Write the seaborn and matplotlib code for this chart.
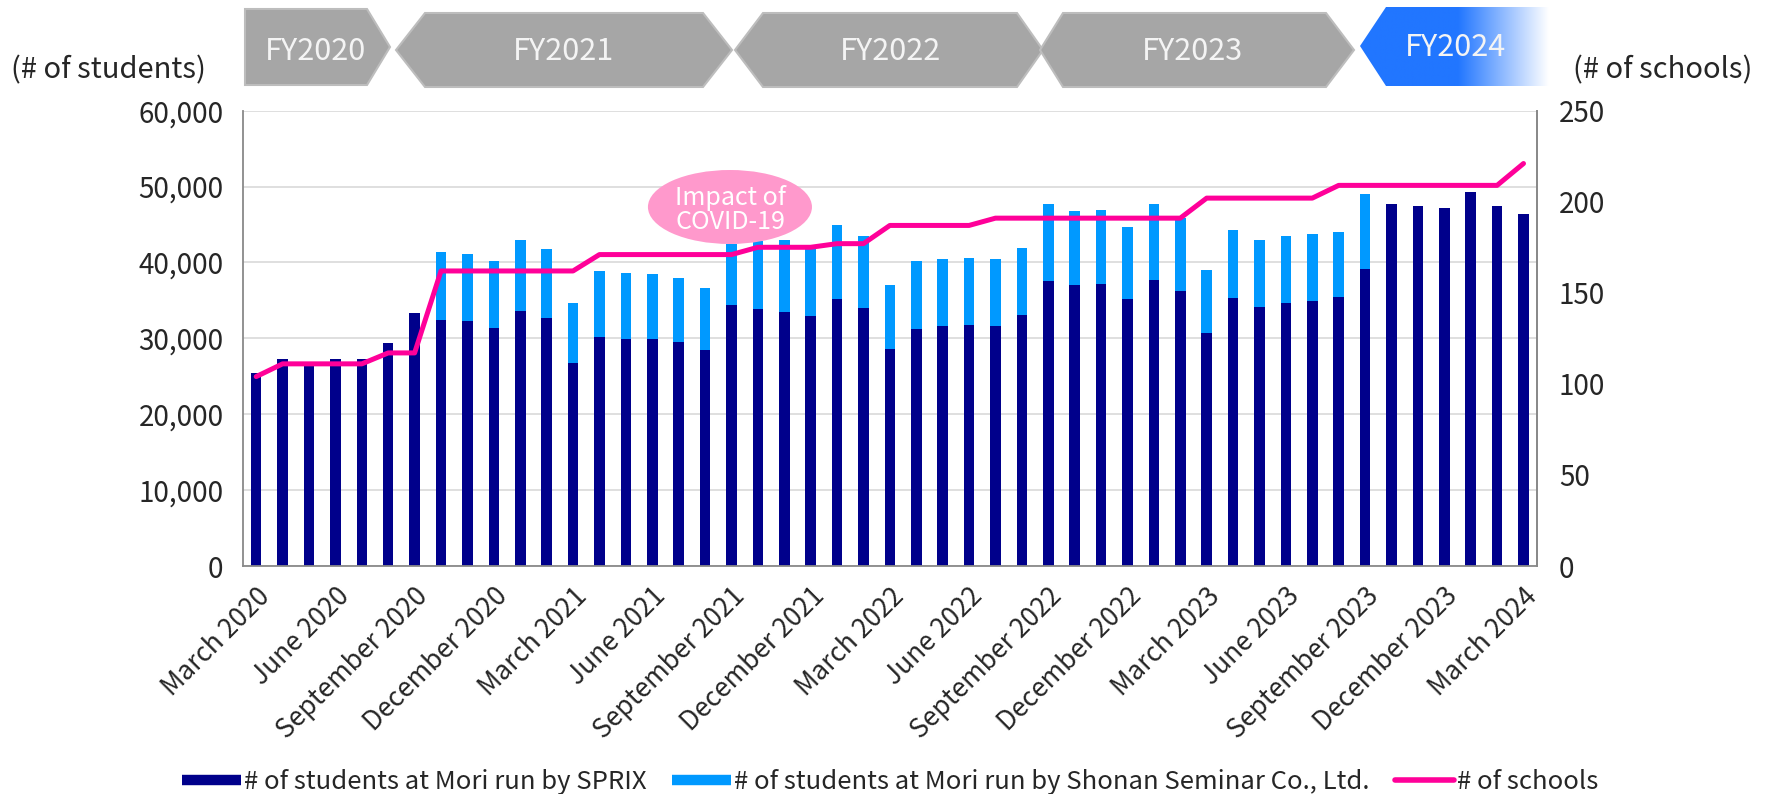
import numpy as np
import pandas as pd
import matplotlib
matplotlib.use("Agg")
import matplotlib.pyplot as plt
import seaborn as sns
from matplotlib.patches import Polygon, Ellipse
from matplotlib.lines import Line2D

# Data
months = pd.date_range("2020-03-01", periods=49, freq="MS").strftime("%B %Y").tolist()

sprix = [25470, 27270, 26300, 27230, 27270, 29340, 33380,
         32460, 32280, 31400, 33640, 32720, 26750,
         30170, 29950, 29860, 29470, 28410, 34390, 33860, 33510, 32980, 35220, 34040, 28630,
         31270, 31580, 31710, 31660, 33070, 37590, 37070, 37200, 35180, 37720, 36230, 30740,
         35350, 34170, 34690, 34960, 35490, 39170, 47690, 47390, 47210, 49230, 47430, 46380]

shonan = [0, 0, 0, 0, 0, 0, 0,
          8910, 8830, 8740, 9310, 9090, 7900,
          8700, 8610, 8610, 8470, 8220, 8100, 8940, 9440, 8820, 9710, 9440, 8440,
          8960, 8870, 8910, 8790, 8870, 10150, 9700, 9750, 9530, 9930, 9670, 8300,
          8960, 8780, 8790, 8740, 8560, 9890, 0, 0, 0, 0, 0, 0]

schools = [104, 111, 111, 111, 111, 117, 117,
           162, 162, 162, 162, 162, 162,
           171, 171, 171, 171, 171, 171, 175, 175, 175, 177, 177, 187,
           187, 187, 187, 191, 191, 191, 191, 191, 191, 191, 191, 202,
           202, 202, 202, 202, 209, 209, 209, 209, 209, 209, 209, 221]

fy_labels = ["FY2020", "FY2021", "FY2022", "FY2023", "FY2024"]

df = pd.DataFrame({"month": months, "sprix": sprix, "shonan": shonan, "schools": schools})
df["total"] = df["sprix"] + df["shonan"]

NAVY = "#00008B"
LIGHT = "#0099FF"
PINK = "#FF0099"

sns.set_style("white")
plt.rcParams["font.family"] = ["Noto Sans CJK JP", "DejaVu Sans"]

W, H = 1777, 794
fig = plt.figure(figsize=(W / 100, H / 100), dpi=100)


def fx(x):
    return x / W


def fy(y):
    return 1 - y / H


ax = fig.add_axes([fx(243), fy(566), fx(1536.7 - 243), (566 - 110.7) / H])

# stacked bars: total in light blue, SPRIX part drawn over it
sns.barplot(data=df, x="month", y="total", color=LIGHT, width=0.4, saturation=1,
            errorbar=None, linewidth=0, ax=ax)
sns.barplot(data=df, x="month", y="sprix", color=NAVY, width=0.4, saturation=1,
            errorbar=None, linewidth=0, ax=ax)

ax.set_ylim(0, 60000)
ax.set_yticks(range(0, 60001, 10000))
ax.set_yticklabels([f"{v:,}" for v in range(0, 60001, 10000)])
ax.yaxis.grid(True, color="#D9D9D9", linewidth=1.2)
ax.set_axisbelow(True)
ax.set_xlabel("")
ax.set_ylabel("")
ax.tick_params(axis="y", length=0, pad=14, labelsize=20)

ax.set_xticks(range(0, len(months), 3))
ax.set_xticklabels(months[::3], rotation=45, ha="right", rotation_mode="anchor", fontsize=19)
ax.tick_params(axis="x", length=0, pad=12)
ax.set_xticks(np.arange(-0.5, len(months) - 1, 3), minor=True)
ax.tick_params(axis="x", which="minor", length=6, width=1.2, color="#898989")

for s in ["left", "bottom", "right"]:
    ax.spines[s].set_color("#898989")
    ax.spines[s].set_linewidth(1.3)
ax.spines["top"].set_visible(False)

# schools line on secondary axis
ax2 = ax.twinx()
sns.lineplot(x=df.index, y=df["schools"], color=PINK, linewidth=3.6, ax=ax2)
ax2.set_ylim(0, 250)
ax2.set_yticks(range(0, 251, 50))
ax2.tick_params(axis="y", length=0, pad=16, labelsize=20)
ax2.set_ylabel("")
ax2.set_xlabel("")
for s in ["left", "bottom", "top"]:
    ax2.spines[s].set_visible(False)
ax2.spines["right"].set_color("#898989")
ax2.spines["right"].set_linewidth(1.3)
ax.set_xlim(-0.5, len(months) - 0.5)

# COVID note
ax2.add_patch(Ellipse((0.3764, 0.7885), 0.1268, 0.1625, transform=ax2.transAxes,
                      facecolor="#FF99CC", edgecolor="none", zorder=5))
ax2.text(0.3764, 0.7830, "Impact of\nCOVID-19", transform=ax2.transAxes, ha="center",
         va="center", color="white", fontsize=18, linespacing=0.9, zorder=6)

# axis titles
fig.text(fx(11), fy(70), "(# of students)", fontsize=21, va="center", ha="left")
fig.text(fx(1573), fy(70), "(# of schools)", fontsize=21, va="center", ha="left")

# fiscal-year banners
GRAY = "#A6A6A6"
shapes = [
    [(245, 9), (367, 9), (390, 47), (367, 85), (245, 85)],
    [(425, 13), (703, 13), (732, 50), (703, 87), (425, 87), (396, 50)],
    [(763, 13), (1017, 13), (1043, 50), (1017, 87), (763, 87), (735, 50)],
    [(1063, 13), (1326, 13), (1354, 50), (1326, 87), (1063, 87), (1040, 50)],
]
centers = [316, 564, 890, 1192]
for pts, cx, lab in zip(shapes, centers, fy_labels[:4]):
    fig.patches.append(Polygon([(fx(x), fy(y)) for x, y in pts], closed=True,
                               transform=fig.transFigure, facecolor=GRAY,
                               edgecolor="#BDBDBD", linewidth=1.5))
    fig.text(fx(cx), fy(52), lab, ha="center", va="center", color="#F4F4F4", fontsize=22)

# FY2024 banner with fade to white
bax = fig.add_axes([fx(1360), fy(86), fx(1549 - 1360), (86 - 7) / H])
bax.axis("off")
xs = np.linspace(1360, 1549, 300)
fade = np.clip((xs - 1458) / (1549 - 1458), 0, 1)
blue = np.array([0x21, 0x76, 0xFF]) / 255
rgb = blue[None, :] * (1 - fade[:, None]) + fade[:, None]
grad = np.tile(rgb[None, :, :], (10, 1, 1))
im = bax.imshow(grad, extent=(1360, 1549, 86, 7), aspect="auto")
bax.set_xlim(1360, 1549)
bax.set_ylim(86, 7)
clip = Polygon([(1360, 46), (1386, 7), (1549, 7), (1549, 86), (1386, 86)], closed=True,
               facecolor="none", edgecolor="none", transform=bax.transData)
bax.add_patch(clip)
im.set_clip_path(clip)
fig.text(fx(1456), fy(48), fy_labels[4], ha="center", va="center", color="#F4F4F4", fontsize=22)

# legend
handles = [Line2D([], [], color=NAVY, linewidth=7.5, solid_capstyle="butt"),
           Line2D([], [], color=LIGHT, linewidth=7.5, solid_capstyle="butt"),
           Line2D([], [], color=PINK, linewidth=4, solid_capstyle="round")]
labels = ["# of students at Mori run by SPRIX",
          "# of students at Mori run by Shonan Seminar Co., Ltd.",
          "# of schools"]
fig.legend(handles, labels, loc="center", bbox_to_anchor=(fx(890), fy(782)), ncol=3,
           frameon=False, fontsize=18.5, handlelength=2.3, handletextpad=0.1,
           columnspacing=1.0)

fig.savefig("out.png", dpi=100)
